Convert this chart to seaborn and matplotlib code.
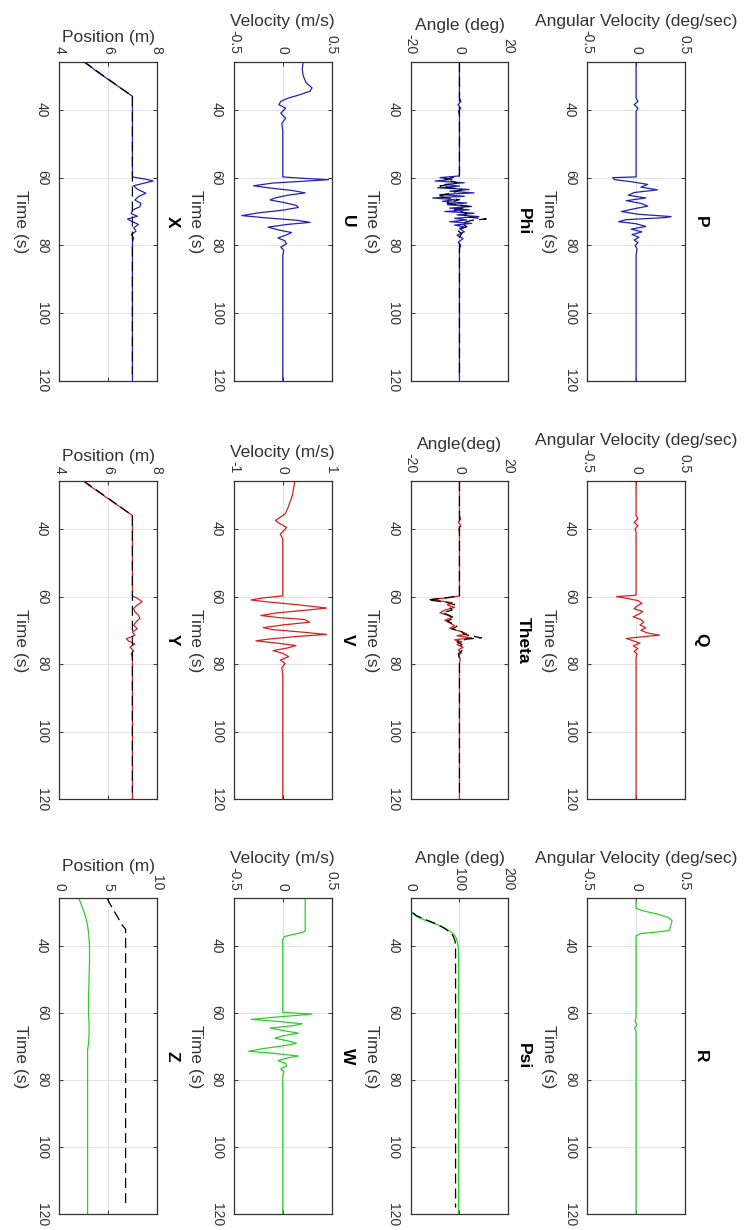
import matplotlib
matplotlib.use("Agg")
import matplotlib.pyplot as plt
import pandas as pd
import seaborn as sns

# ---------------- data ----------------
TIME_START = 25.8
TIME_END = 120.0
TIME_TICKS = [40, 60, 80, 100, 120]
TIME_TICK_LABELS = ["40", "60", "80", "100", "120"]

# Position X / Y / Z  (solid = measured, dashed = reference)
X_T = [25.8, 27.0, 28.5, 30.0, 31.5, 33.0, 34.5, 36.0, 59.8, 60.4, 61.0, 61.6, 62.4, 63.4, 64.6, 65.6, 66.6, 67.6, 68.6, 69.6,
       70.6, 71.4, 72.2, 73.0, 73.8, 74.8, 75.8, 76.8, 77.8, 79.0, 120.0]
X_V = [5.0, 5.25, 5.5, 5.8, 6.1, 6.4, 6.7, 7.0, 7.0, 7.5, 7.85, 7.5, 7.05, 7.2, 7.55, 7.25, 7.1, 7.35, 7.3, 7.0,
       6.95, 7.2, 6.8, 7.0, 7.25, 7.05, 7.15, 6.95, 7.05, 7.0, 7.0]
XR_T = [25.8, 36.0, 118.0]
XR_V = [5.0, 7.0, 7.0]

Y_T = [25.8, 27.0, 28.5, 30.0, 31.5, 33.0, 34.5, 36.0, 59.8, 60.5, 61.5, 62.5, 63.5, 64.5, 65.5, 66.5, 67.5, 68.5,
       69.5, 70.5, 71.5, 72.5, 73.2, 74.0, 75.0, 76.0, 77.0, 78.0, 120.0]
Y_V = [5.0, 5.2, 5.5, 5.8, 6.1, 6.4, 6.7, 7.0, 7.0, 7.2, 7.4, 7.2, 7.05, 7.1, 7.25, 7.3, 7.15, 7.05,
       7.2, 7.0, 7.1, 6.75, 6.85, 7.1, 6.9, 7.05, 6.95, 7.0, 7.0]
YR_T = [25.8, 36.0, 118.0]
YR_V = [5.0, 7.0, 7.0]

Z_T = [25.8, 28.0, 30.0, 32.0, 34.0, 36.0, 40.0, 45.0, 50.0, 55.0, 60.0, 63.0, 66.0, 69.0, 71.0, 75.0, 120.0]
Z_V = [2.0, 2.3, 2.55, 2.75, 2.9, 3.0, 3.1, 3.1, 3.05, 3.0, 3.0, 3.05, 3.05, 3.0, 2.9, 2.9, 2.9]
ZR_T = [25.8, 28.0, 30.0, 32.0, 34.0, 35.0, 118.0]
ZR_V = [4.9, 5.3, 5.7, 6.1, 6.5, 6.8, 6.8]

# Velocity U / V / W
U_T = [25.8, 28.0, 30.0, 32.0, 33.5, 34.5, 35.5, 36.5, 37.5, 38.5, 39.5, 41.0, 42.5, 44.0, 46.0,
       59.8, 60.2, 60.6, 61.0, 61.6, 62.4, 63.0, 63.8, 64.5, 65.2, 66.0, 66.6, 67.4, 68.2, 68.8,
       69.6, 70.4, 71.2, 71.8, 72.6, 73.2, 73.8, 74.6, 75.4, 76.2, 77.0, 77.8, 78.6, 79.5, 80.5, 81.5, 83.0, 120.0]
U_V = [0.21, 0.2, 0.21, 0.24, 0.3, 0.28, 0.18, 0.06, -0.02, -0.04, 0.03, -0.02, 0.03, -0.01, 0.0,
       0.0, 0.2, 0.47, 0.25, -0.1, -0.3, -0.15, 0.1, 0.23, 0.05, -0.08, -0.13, 0.02, 0.14, 0.16,
       0.0, -0.25, -0.42, -0.2, 0.15, 0.28, 0.05, -0.15, -0.05, 0.09, 0.03, -0.05, 0.02, 0.04, -0.02, 0.01, 0.0, 0.0]

V_T = [25.8, 28.0, 30.0, 32.0, 34.0, 35.5, 36.5, 37.5, 38.5, 39.5, 40.5, 41.5, 43.0,
       59.8, 60.4, 61.0, 61.6, 62.4, 63.4, 64.0, 64.8, 65.6, 66.2, 66.8, 67.6, 68.4, 69.2, 69.8, 70.4, 71.2,
       71.8, 72.6, 73.1, 73.8, 74.5, 75.2, 76.0, 76.8, 77.8, 78.8, 79.8, 81.0, 83.0, 120.0]
V_V = [0.25, 0.22, 0.2, 0.15, 0.1, 0.05, -0.05, -0.15, -0.05, 0.08, 0.02, -0.05, 0.0,
       0.0, -0.4, -0.65, -0.3, 0.3, 0.9, 0.5, -0.1, -0.45, -0.1, 0.45, 0.55, 0.0, -0.4, -0.2, 0.3, 0.9,
       0.3, -0.3, -0.55, -0.1, 0.27, 0.1, -0.2, 0.0, 0.12, -0.05, 0.05, -0.02, 0.0, 0.0]

W_T = [25.8, 35.5, 36.0, 36.6, 37.2, 38.0, 59.8, 60.3, 60.8, 61.4, 61.9, 62.5, 63.2, 63.8, 64.5, 65.2, 66.0,
       66.8, 67.5, 68.3, 69.0, 69.8, 70.6, 71.4, 72.0, 72.8, 73.4, 74.2, 75.0, 75.8, 76.6, 77.5, 79.0, 120.0]
W_V = [0.23, 0.23, 0.2, 0.1, 0.02, 0.0, 0.0, 0.3, 0.1, -0.15, -0.32, -0.05, 0.2, 0.1, -0.13, 0.0, 0.16,
       0.0, -0.08, 0.05, 0.14, 0.0, -0.2, -0.35, -0.1, 0.16, 0.05, -0.05, 0.03, 0.04, -0.02, 0.01, 0.0, 0.0]

# Angle Phi / Theta / Psi (solid = measured, dashed = reference)
PHI_T = [25.8, 36.5, 37.5, 38.5, 39.5, 40.5, 41.5, 59.5, 60.0, 60.5, 61.0, 61.5, 62.0, 62.5, 63.0, 63.5,
         64.0, 64.5, 65.0, 65.5, 66.0, 66.5, 67.0, 67.5, 68.0, 68.5, 69.0, 69.5, 70.0, 70.5, 71.0, 71.5,
         72.0, 72.5, 73.0, 73.5, 74.0, 74.5, 75.0, 76.0, 77.0, 78.0, 79.0, 80.0, 81.0, 120.0]
PHI_V = [0, 0, 0.6, -0.6, 0.5, -0.4, 0, 0, -8, -3, -10, 2, -6, 0, -9, 4,
         -4, 6, -8, 2, -11, -2, -7, 3, -5, 5, -4, 4, -6, 6, -1, 8,
         -2, 3, -4, 5, -2, 2, 0, 2, -1, 1.5, -0.5, 0.5, 0, 0]
PHIR_T = [25.8, 59.5, 60.5, 61.5, 62.5, 63.5, 64.5, 65.5, 66.5, 67.5, 68.5, 69.5, 70.5, 71.5, 72.2, 72.6,
          73.5, 74.5, 75.5, 76.5, 77.5, 118.0]
PHIR_V = [0, 0, -6, -1, -8, 1, -3, -9, 0, -5, 4, -2, 3, 2, 11, 5, 1, 3, -1, 1, 0, 0]

THETA_T = [25.8, 36.0, 37.0, 38.0, 39.0, 40.0, 41.0, 59.8, 60.3, 60.8, 61.3, 61.8, 62.5, 63.2, 64.0, 64.8,
           65.5, 66.2, 67.0, 67.8, 68.6, 69.4, 70.2, 71.0, 71.6, 72.2, 72.8, 73.4, 74.2, 75.0, 75.8, 76.6,
           77.5, 78.5, 80.0, 120.0]
THETA_V = [0, 0, 0.5, -0.5, 0.6, -0.3, 0, 0, -4, -11, -8, -3, -5, -2, -6, -8,
           -5, -3, -6, -4, -2, -4, 0, 3, -1, 5, -2, 1, -1, 1.5, -0.5, 0.8, -0.3, 0.3, 0, 0]
THETAR_T = [25.8, 59.8, 60.4, 61.0, 61.6, 62.4, 63.2, 64.0, 64.8, 65.6, 66.4, 67.2, 68.0, 68.8, 69.6, 70.4,
            71.2, 71.8, 72.2, 72.6, 73.4, 74.2, 75.0, 76.0, 77.0, 78.0, 118.0]
THETAR_V = [0, 0, -6, -13, -6, -2, -4, -3, -7, -4, -2, -5, -3, -1, -3, 1, 2, 6, 9, 3, -1, 1, 0, 1, -0.5, 0, 0]

PSI_T = [25.8, 29.5, 30.5, 31.5, 32.5, 33.5, 34.5, 35.5, 36.5, 37.5, 39.0, 41.0, 120.0]
PSI_V = [0, 0, 5, 15, 33, 52, 68, 80, 88, 93, 96, 98, 98]
PSIR_T = [25.8, 29.0, 30.0, 31.0, 32.0, 33.0, 34.0, 35.0, 36.0, 37.0, 38.5, 40.0, 118.0]
PSIR_V = [0, 0, 4, 12, 28, 45, 60, 72, 81, 87, 91, 92, 92]

# Angular velocity P / Q / R
P_T = [25.8, 36.5, 37.5, 38.5, 39.5, 40.5, 59.8, 60.0, 60.6, 61.2, 62.0, 62.8, 63.6, 64.4, 65.2, 66.0,
       66.8, 67.6, 68.4, 69.2, 70.0, 70.8, 71.5, 71.8, 72.4, 73.0, 73.6, 74.4, 75.2, 76.0, 76.8, 77.6,
       78.4, 79.2, 80.0, 81.0, 83.0, 120.0]
P_V = [0, 0, 0.02, -0.02, 0.02, 0, 0, -0.24, -0.22, -0.05, 0.12, 0.05, 0.22, -0.02, -0.08, 0.1,
       -0.1, 0.05, 0.12, -0.02, -0.15, 0.02, 0.36, 0.3, -0.1, -0.18, 0.0, 0.1, -0.05, 0.06, -0.04, 0.03,
       -0.02, 0.02, -0.01, 0.01, 0, 0]

Q_T = [25.8, 36.0, 37.0, 38.0, 39.0, 40.0, 41.0, 59.6, 60.0, 60.5, 61.2, 62.0, 62.8, 63.6, 64.4, 65.2,
       66.0, 66.8, 67.6, 68.4, 69.2, 70.0, 70.8, 71.4, 71.8, 72.4, 73.0, 73.8, 74.6, 75.4, 76.2, 77.0, 78.0, 120.0]
Q_V = [0, 0, 0.02, -0.02, 0.02, -0.01, 0, 0, -0.2, -0.1, 0.02, 0.06, 0.01, -0.02, 0.07, 0.03,
       -0.03, 0.05, 0.08, 0.04, 0.1, 0.05, 0.12, 0.24, 0.1, -0.1, -0.04, 0.04, -0.03, 0.02, -0.02, 0.01, 0, 0]

R_T = [25.8, 28.8, 29.6, 30.5, 31.5, 32.5, 33.5, 34.5, 35.4, 35.9, 36.3, 37.0, 61.0, 62.5, 63.5, 64.5, 65.5, 120.0]
R_V = [0, 0, 0.08, 0.22, 0.33, 0.37, 0.36, 0.35, 0.34, 0.2, 0.05, 0.0, 0.0, -0.01, 0.01, -0.015, 0.0, 0.0]

# axis labels / titles / ranges
COL_LABELS = ["Position (m)", "Velocity (m/s)", "Angle (deg)", "Angular Velocity (deg/sec)"]
THETA_LABEL = "Angle(deg)"
TITLES = [["X", "U", "Phi", "P"], ["Y", "V", "Theta", "Q"], ["Z", "W", "Psi", "R"]]
LIMITS = [[(4, 8), (-0.5, 0.5), (-20, 20), (-0.5, 0.5)],
          [(4, 8), (-1, 1), (-20, 20), (-0.5, 0.5)],
          [(0, 10), (-0.5, 0.5), (0, 200), (-0.5, 0.5)]]
TICKS = [[[4, 6, 8], [-0.5, 0, 0.5], [-20, 0, 20], [-0.5, 0, 0.5]],
         [[4, 6, 8], [-1, 0, 1], [-20, 0, 20], [-0.5, 0, 0.5]],
         [[0, 5, 10], [-0.5, 0, 0.5], [0, 100, 200], [-0.5, 0, 0.5]]]
TICK_LABELS = [[["4", "6", "8"], ["-0.5", "0", "0.5"], ["-20", "0", "20"], ["-0.5", "0", "0.5"]],
               [["4", "6", "8"], ["-1", "0", "1"], ["-20", "0", "20"], ["-0.5", "0", "0.5"]],
               [["0", "5", "10"], ["-0.5", "0", "0.5"], ["0", "100", "200"], ["-0.5", "0", "0.5"]]]
MAIN = [[(X_T, X_V), (U_T, U_V), (PHI_T, PHI_V), (P_T, P_V)],
        [(Y_T, Y_V), (V_T, V_V), (THETA_T, THETA_V), (Q_T, Q_V)],
        [(Z_T, Z_V), (W_T, W_V), (PSI_T, PSI_V), (R_T, R_V)]]
REF = [[(XR_T, XR_V), None, (PHIR_T, PHIR_V), None],
       [(YR_T, YR_V), None, (THETAR_T, THETAR_V), None],
       [(ZR_T, ZR_V), None, (PSIR_T, PSIR_V), None]]
ROW_COLORS = ["#2222b4", "#d42020", "#2ecc2e"]

# ---------------- styling / layout ----------------
sns.set_style("white")
plt.rcParams["font.family"] = ["Liberation Sans", "DejaVu Sans"]
plt.rcParams["axes.unicode_minus"] = False

W, H = 744, 1230
fig = plt.figure(figsize=(W / 100, H / 100), dpi=100)
fig.patch.set_facecolor("white")

COL_LEFT = [59.3, 234.0, 410.7, 587.3]
COL_W = 97.5
ROW_TOP = [61.7, 481.0, 898.3]
ROW_BOT = [381.0, 799.3, 1214.3]

AX_COLOR = "#333333"
TXT_COLOR = "#333333"
LBL_SIZE = 12.5
TICK_SIZE = 10

for r in range(3):
    for c in range(4):
        ax = fig.add_axes([COL_LEFT[c] / W, 1 - ROW_BOT[r] / H, COL_W / W, (ROW_BOT[r] - ROW_TOP[r]) / H])
        t, v = MAIN[r][c]
        df = pd.DataFrame({"time": t, "value": v})
        sns.lineplot(data=df, x="value", y="time", orient="y", sort=False, estimator=None,
                     color=ROW_COLORS[r], lw=0.9, ax=ax)
        if REF[r][c] is not None:
            tr, vr = REF[r][c]
            dfr = pd.DataFrame({"time": tr, "value": vr})
            sns.lineplot(data=dfr, x="value", y="time", orient="y", sort=False, estimator=None,
                         color="black", lw=0.9, linestyle=(0, (8, 4)), ax=ax)

        ax.set_xlim(*LIMITS[r][c])
        ax.set_ylim(TIME_END, TIME_START)
        ax.set_xticks(TICKS[r][c])
        ax.set_xticklabels(TICK_LABELS[r][c])
        ax.set_yticks(TIME_TICKS)
        ax.set_yticklabels(TIME_TICK_LABELS)

        ax.grid(True, color="#e4e4e4", lw=0.8)
        ax.set_axisbelow(True)
        for s in ax.spines.values():
            s.set_color(AX_COLOR)
            s.set_linewidth(0.9)

        ax.tick_params(axis="x", which="both", top=True, bottom=True, labeltop=True, labelbottom=False,
                       direction="in", labelrotation=270, pad=5.5, labelsize=TICK_SIZE, length=3,
                       width=0.7, color=AX_COLOR, labelcolor=TXT_COLOR)
        ax.tick_params(axis="y", which="both", left=True, right=True, labelleft=True, labelright=False,
                       direction="in", labelrotation=270, pad=7.5, labelsize=TICK_SIZE, length=3,
                       width=0.7, color=AX_COLOR, labelcolor=TXT_COLOR)
        for lbl in ax.get_yticklabels():
            lbl.set_va("center")

        xl = THETA_LABEL if (r == 1 and c == 2) else COL_LABELS[c]
        ax.xaxis.set_label_position("top")
        ax.set_xlabel(xl, fontsize=LBL_SIZE, color=TXT_COLOR, labelpad=3)
        ax.set_ylabel("Time (s)", fontsize=LBL_SIZE, color=TXT_COLOR, rotation=270, va="top", labelpad=5)

        ax.text(1 + 8 / COL_W, 0.5, TITLES[r][c], transform=ax.transAxes, rotation=270,
                ha="left", va="center", fontsize=LBL_SIZE, fontweight="bold", color="black")

fig.savefig("out.png", dpi=100, facecolor="white")
